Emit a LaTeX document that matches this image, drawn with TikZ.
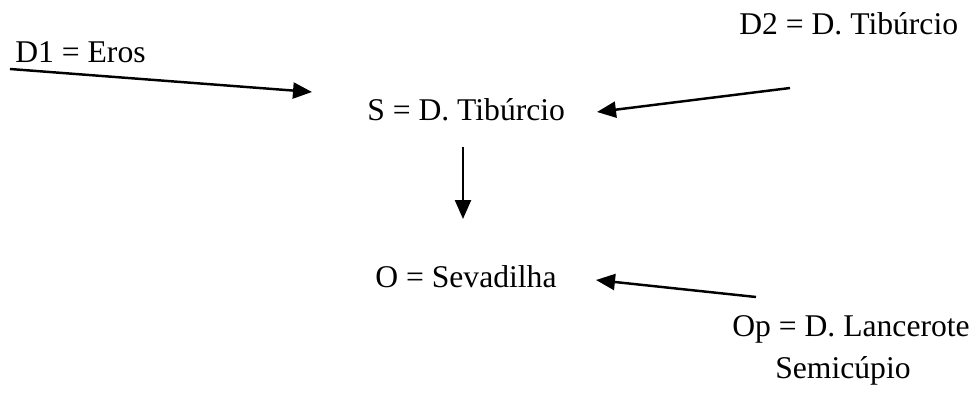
\documentclass[tikz,border=0pt]{standalone}
\usepackage{fontspec}
\setmainfont{Liberation Serif}
\usetikzlibrary{arrows.meta, positioning}
\tikzstyle{actant} = [inner sep=0, anchor=base west, font=\fontsize{18}{21}\selectfont]
\tikzstyle{link} = [line width=1.4pt, -{Triangle[length=3.8mm, width=3.2mm]}]

\begin{document}
\begin{tikzpicture}[x=0.02cm, y=-0.02cm]
				\useasboundingbox (0, 0) rectangle (974, 405);

				\node (D1) [actant] at (15, 63) {D1 = Eros};
				\node (D2) [actant] at (739, 35) {D2 = D. Tib\'urcio};
				\node (S) [actant] at (367, 121) {S = D. Tib\'urcio};
				\node (O) [actant] at (375, 288) {O = Sevadilha};
				\node (Op) [actant] at (732, 337) {Op = D. Lancerote};
				\node (Semi) [actant] at (775, 378) {Semic\'upio};

				% destinador
				\coordinate (D1Start) at (10, 69);
				\coordinate (D1End) at (312, 92);
				\draw [link] (D1Start) -- (D1End);

				\coordinate (D2Start) at (790, 88);
				\coordinate (D2End) at (597, 112);
				\draw [link] (D2Start) -- (D2End);

				% sujeito -> objeto
				\coordinate (SOut) at (463, 147);
				\coordinate (OIn) at (463, 219);
				\draw [link] (SOut) -- (OIn);

				% oponente
				\coordinate (OpStart) at (756, 297);
				\coordinate (OpEnd) at (596, 280);
				\draw [link] (OpStart) -- (OpEnd);
\end{tikzpicture}
\end{document}
